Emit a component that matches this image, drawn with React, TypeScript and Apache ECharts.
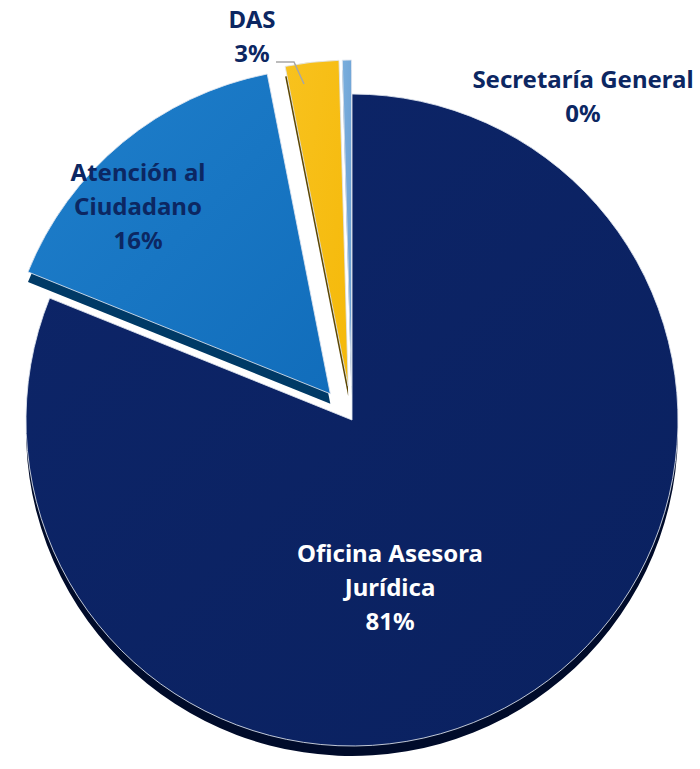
import React, { useEffect, useRef } from "react";
import * as echarts from "echarts";

const categories = ["Oficina Asesora Jurídica", "Atención al Ciudadano", "DAS", "Secretaría General"];
const labelNames = ["Oficina Asesora\nJurídica", "Atención al\nCiudadano", "DAS", "Secretaría General"];
const values = [81.1, 15.8, 2.65, 0.45];
const exploded = [false, true, true, true];

const topColors = ["#0a2160", "#116dbb", "#f5b90a", "#6a9fd2"];
const topColorsLight = ["#0d2568", "#1f7fcb", "#f8c21e", "#7aaedd"];
const sideColors = ["#000b2a", "#003a66", "#5c4600", "#3b6896"];
const labelColors = ["#ffffff", "#0c2762", "#0c2762", "#0c2762"];
const labelPos: [number, number][] = [
  [390, 586],
  [138, 205],
  [252, 35],
  [583, 95],
];

export default function App() {
  const ref = useRef<HTMLDivElement>(null);
  useEffect(() => {
    document.body.style.margin = "0";
    if (!ref.current) return;
    const chart = echarts.init(ref.current, null, { renderer: "svg" });
    const center = [352, 420];
    const radius = 326;
    const font = "'Noto Sans', sans-serif";

    const frontData = categories.map((c, i) => ({
      name: c,
      value: values[i],
      selected: exploded[i],
      itemStyle: {
        color: new echarts.graphic.LinearGradient(0, 0, 1, 1, [
          { offset: 0, color: topColorsLight[i] },
          { offset: 1, color: topColors[i] },
        ]),
      },
    }));
    const backData = categories.map((c, i) => ({
      name: c,
      value: values[i],
      selected: exploded[i],
      itemStyle: { color: sideColors[i] },
    }));
    const labelData = categories.map((c, i) => ({
      name: c,
      value: values[i],
      label: { color: labelColors[i] },
      labelLine: { show: i === 2 },
    }));

    chart.setOption({
      animation: false,
      series: [
        {
          type: "pie",
          center: [center[0], center[1] + 10],
          radius: radius,
          startAngle: 90,
          clockwise: true,
          selectedMode: "multiple",
          selectedOffset: 34,
          silent: true,
          z: 1,
          label: { show: false },
          labelLine: { show: false },
          itemStyle: { borderWidth: 0 },
          data: backData,
        },
        {
          type: "pie",
          center: center,
          radius: radius,
          startAngle: 90,
          clockwise: true,
          selectedMode: "multiple",
          selectedOffset: 34,
          z: 2,
          silent: true,
          itemStyle: { borderColor: "rgba(225,230,240,0.85)", borderWidth: 1 },
          select: { itemStyle: { borderColor: "rgba(225,230,240,0.85)", borderWidth: 1 } },
          label: { show: false },
          labelLine: { show: false },
          data: frontData,
        },
        {
          type: "pie",
          center: center,
          radius: radius,
          startAngle: 90,
          clockwise: true,
          z: 3,
          silent: true,
          percentPrecision: 0,
          avoidLabelOverlap: false,
          itemStyle: { color: "rgba(0,0,0,0)", borderWidth: 0 },
          label: {
            show: true,
            position: "outside",
            overflow: "none",
            width: 400,
            formatter: (p: any) => labelNames[p.dataIndex] + "\n" + p.percent + "%",
            fontFamily: font,
            fontWeight: "bold",
            fontSize: 24,
            lineHeight: 34,
            align: "center",
          },
          labelLine: {
            show: true,
            lineStyle: { color: "#a6a6a6", width: 1.5 },
          },
          labelLayout: (params: any) => {
            const p = labelPos[params.dataIndex];
            const res: any = { x: p[0], y: p[1], align: "center", verticalAlign: "middle" };
            if (params.dataIndex === 2) {
              res.labelLinePoints = [
                [304, 84],
                [294, 62],
                [276, 62],
              ];
            }
            return res;
          },
          data: labelData,
        },
      ],
    });
    return () => chart.dispose();
  }, []);
  return <div ref={ref} style={{ width: 700, height: 769 }} />;
}
